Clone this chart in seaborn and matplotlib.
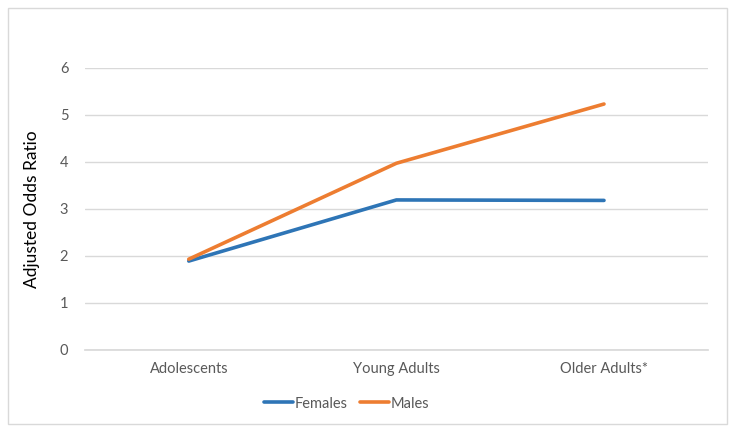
import pandas as pd
import numpy as np
import seaborn as sns
import matplotlib
matplotlib.use('Agg')
import matplotlib.pyplot as plt
from matplotlib.patches import Rectangle

groups = ['Adolescents', 'Young Adults', 'Older Adults*']
females = [1.89, 3.19, 3.18]
males = [1.93, 3.97, 5.23]

df = pd.DataFrame({
    'group': groups * 2,
    'aor': females + males,
    'sex': ['Females'] * 3 + ['Males'] * 3,
})
df['x'] = np.tile(np.arange(len(groups)), 2)

sns.set_theme(style='white')
plt.rcParams['font.family'] = ['Lato', 'DejaVu Sans']

fig = plt.figure(figsize=(7.35, 4.32), dpi=100)
ax = fig.add_axes([0.1156, 0.19, 0.8474, 0.653])

pal = {'Females': '#2e75b6', 'Males': '#ed7d31'}
sns.lineplot(data=df, x='x', y='aor', hue='sex', palette=pal, ax=ax,
             linewidth=2.6, sort=False)

ax.set_xlim(-0.5, 2.5)
ax.set_ylim(0, 6)
ax.set_yticks(range(0, 7))
ax.set_xticks(range(len(groups)))
ax.set_xticklabels(groups)
ax.yaxis.grid(True, color='#d9d9d9', linewidth=1)
ax.set_axisbelow(True)
for s in ['top', 'right', 'left']:
    ax.spines[s].set_visible(False)
ax.spines['bottom'].set_color('#d9d9d9')
ax.tick_params(axis='both', colors='#595959', labelsize=10.5, length=0, pad=12)
ax.tick_params(axis='x', pad=9)
ax.set_xlabel('')
ax.set_ylabel('Adjusted Odds Ratio', fontsize=12.5, color='black', labelpad=14)

handles, labels = ax.get_legend_handles_labels()
ax.legend(handles, labels, loc='center', bbox_to_anchor=(0.42, -0.19), ncol=2,
          frameon=False, fontsize=10.5, labelcolor='#595959', handlelength=2.0,
          handletextpad=0.1, columnspacing=0.9)

fig.patches.append(Rectangle((8 / 735, 8 / 432), 719 / 735, 416 / 432,
                             transform=fig.transFigure, fill=False,
                             edgecolor='#d9d9d9', linewidth=1))

plt.savefig('out.png', dpi=100)
